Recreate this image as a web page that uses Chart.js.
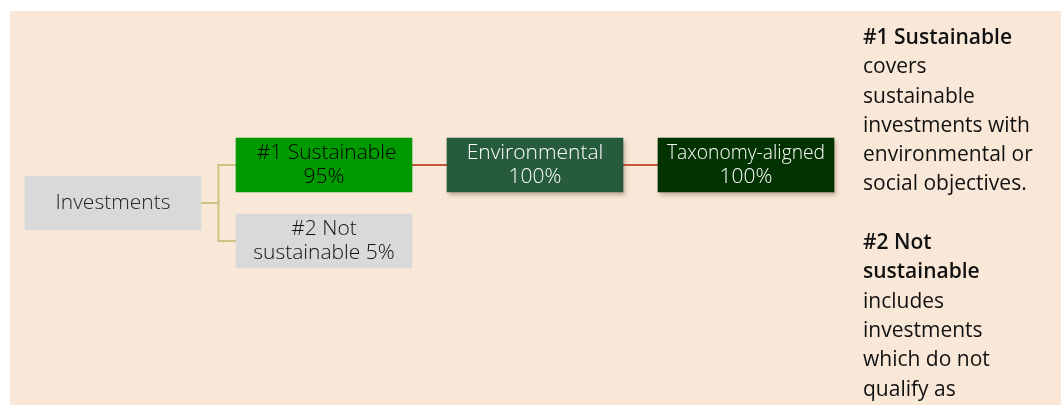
<!DOCTYPE html>
<html>
<head>
<meta charset="utf-8">
<script src="https://cdn.jsdelivr.net/npm/chart.js@4/dist/chart.umd.min.js"></script>
<style>
html, body { margin: 0; padding: 0; background: #ffffff; }
#wrap { width: 1061px; height: 405px; }
</style>
</head>
<body>
<div id="wrap"><canvas id="chart-1"></canvas></div>
<script>
// tree nodes
var node_lines = [
    ["Investments"],
    [" #1 Sustainable", "95%"],
    ["#2 Not", "sustainable 5%"],
    ["Environmental", "100%"],
    ["Taxonomy-aligned", "100%"],
];
var node_share = [100, 95, 5, 100, 100];
var node_parent = [-1, 0, 0, 1, 3];
var node_level = [0, 1, 1, 2, 3];
var node_row = [0.5, 0, 1, 0, 0];

// side notes
var note_lines = [
    ["#1 Sustainable", true],
    ["covers", false],
    ["sustainable", false],
    ["investments with", false],
    ["environmental or", false],
    ["social objectives.", false],
    ["", false],
    ["#2 Not", true],
    ["sustainable", true],
    ["includes", false],
    ["investments", false],
    ["which do not", false],
    ["qualify as", false],
];

// layout + style
var box_left0 = 25, box_width = 176, box_step = 211;
var row_top = 165, row_step = 76, box_height = 54;
var node_fill = ["#d9d9d9", "#009900", "#d9d9d9", "#265b3c", "#003300"];
var node_ink = ["#222222", "#000000", "#111111", "#ffffff", "#ffffff"];
var FONT = "'Open Sans', sans-serif";

var box_data = [];
for (let i = 0; i < node_lines.length; i++) {
    let x0 = box_left0 + node_level[i] * box_step;
    box_data.push({ x: [x0, x0 + box_width], y: row_top + node_row[i] * row_step });
}

var line_sets = [];
for (let i = 0; i < node_parent.length; i++) {
    let p = node_parent[i];
    if (p < 0) continue;
    let px = box_data[p].x[1], py = box_data[p].y;
    let cx = box_data[i].x[0], cy = box_data[i].y;
    let mx = (px + cx) / 2;
    line_sets.push({
        type: "line",
        data: [{ x: px, y: py }, { x: mx, y: py }, { x: mx, y: cy }, { x: cx, y: cy }],
        borderColor: p == 0 ? "#cdc383" : "#c4573a",
        borderWidth: 2,
        pointRadius: 0,
        fill: false,
        tension: 0,
        order: 2,
    });
}

const panelPlugin = {
    id: "panel",
    beforeDraw(chart) {
        const ctx = chart.ctx;
        const xs = chart.scales.x, ys = chart.scales.y;
        ctx.save();
        ctx.fillStyle = "#f9e7d7";
        let l = xs.getPixelForValue(10), t = ys.getPixelForValue(11);
        ctx.fillRect(l, t, xs.getPixelForValue(1061) - l, ys.getPixelForValue(405) - t);
        ctx.restore();
    },
    beforeDatasetDraw(chart, args) {
        if (args.index != 0) return;
        const ctx = chart.ctx;
        const meta = chart.getDatasetMeta(0);
        meta.data.forEach(function(bar, i) {
            if (node_level[i] < 2) return;
            const p = bar.getProps(["x", "y", "base", "height"], true);
            ctx.save();
            ctx.shadowColor = "rgba(90,60,40,0.35)";
            ctx.shadowBlur = 4;
            ctx.shadowOffsetX = 2;
            ctx.shadowOffsetY = 3;
            ctx.fillStyle = node_fill[i];
            ctx.fillRect(p.base, p.y - p.height / 2, p.x - p.base, p.height);
            ctx.restore();
        });
    },
    afterDatasetsDraw(chart) {
        const ctx = chart.ctx;
        const meta = chart.getDatasetMeta(0);
        ctx.save();
        ctx.textAlign = "center";
        ctx.textBaseline = "middle";
        ctx.font = "300 21px " + FONT;
        meta.data.forEach(function(bar, i) {
            const p = bar.getProps(["x", "y", "base"], true);
            const cx = (p.x + p.base) / 2;
            const lines = node_lines[i];
            ctx.fillStyle = node_ink[i];
            for (let k = 0; k < lines.length; k++) {
                ctx.fillText(lines[k], cx, p.y + (k - (lines.length - 1) / 2) * 24, 158);
            }
        });
        const xs = chart.scales.x, ys = chart.scales.y;
        ctx.textAlign = "left";
        ctx.fillStyle = "#111111";
        for (let k = 0; k < note_lines.length; k++) {
            ctx.font = (note_lines[k][1] ? "600 " : "400 ") + "21px " + FONT;
            ctx.fillText(note_lines[k][0], xs.getPixelForValue(863), ys.getPixelForValue(38 + k * 29.3), 190);
        }
        ctx.restore();
    },
};

const ctx = document.getElementById("chart-1").getContext("2d");
const myChart = new Chart(ctx, {
    type: "bar",
    data: {
        datasets: [{
                label: "nodes",
                data: box_data,
                backgroundColor: node_fill,
                borderWidth: 0,
                barThickness: box_height,
                grouped: false,
                order: 1,
            },
        ].concat(line_sets),
    },
    options: {
        indexAxis: "y",
        responsive: true,
        maintainAspectRatio: false,
        animation: false,
        events: [],
        layout: { padding: 0 },
        plugins: { legend: { display: false }, tooltip: { enabled: false } },
        scales: {
            x: { type: "linear", min: 0, max: 1061, display: false, offset: false },
            y: { type: "linear", min: 0, max: 405, reverse: true, display: false, offset: false },
        },
    },
    plugins: [panelPlugin],
});
</script>
</body>
</html>
